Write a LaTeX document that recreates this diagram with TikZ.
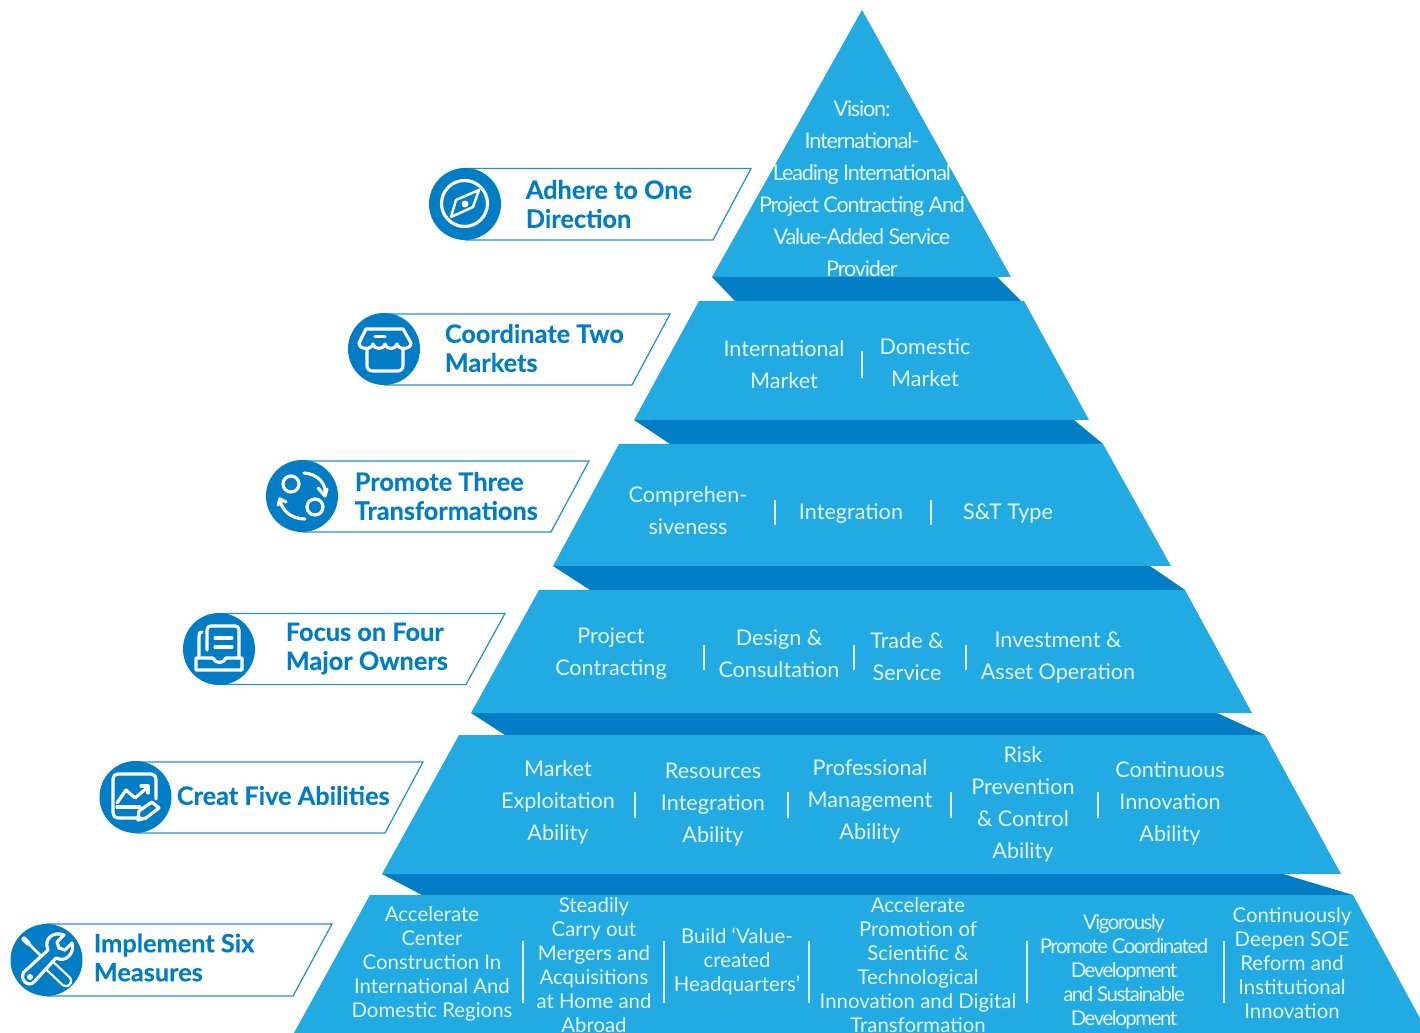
\documentclass[tikz,border=0pt]{standalone}
\usepackage{fontspec}
\setmainfont{Lato}
\usepackage{xcolor}
\usepackage{tikz}
\definecolor{tierblue}{HTML}{22ABE3}
\definecolor{shadeblue}{HTML}{007DC5}
\definecolor{pale}{HTML}{E4F5FC}
\begin{document}
\begin{tikzpicture}[x=0.02cm,y=-0.02cm]
	\tikzset{align=center,text=pale,inner sep=0pt}
	\tikzset{tier/.style = {fill=tierblue}}
	\tikzset{shade/.style = {fill=shadeblue}}
	\tikzset{upper/.style = {font=\fontsize{12.3}{18.2}\selectfont}}
	\tikzset{lower/.style = {font=\fontsize{11.6}{13.66}\selectfont}}
	\tikzset{tight/.style = {font=\fontsize{12.3}{18.2}\selectfont\addfontfeature{LetterSpace=-5.5}}}
	\tikzset{divider/.style = {draw=pale,line width=0.7pt}}
	\tikzset{banner/.style = {draw=shadeblue!85!white,line width=0.7pt}}
	\tikzset{badge/.style = {shape=circle,fill=shadeblue,minimum size=72*0.02cm}}
	\tikzset{heading/.style = {align=left,anchor=west,text=shadeblue,font=\fontsize{14.4}{16.5}\selectfont\bfseries\addfontfeature{FakeBold=0.3}}}
	\tikzset{icon/.style = {draw=white,line width=1.8pt,line cap=round,line join=round}}

	\useasboundingbox (0,0) rectangle (1420,1033);

	% tiers
	\fill[shade] (712,277) -- (997,277) -- (1021,301) -- (735,301) -- cycle;
	\fill[shade] (634,420) -- (1074,420) -- (1103,444) -- (670,444) -- cycle;
	\fill[shade] (553,566) -- (1150,566) -- (1185,590) -- (590,590) -- cycle;
	\fill[shade] (471,713) -- (1217,713) -- (1265,735) -- (505,735) -- cycle;
	\fill[shade] (382,874) -- (1283,874) -- (1353,895) -- (422,895) -- cycle;

	\fill[tier] (862,10) -- (1011,277) -- (712,277) -- cycle;
	\fill[tier] (699,301) -- (1024,301) -- (1089,420) -- (634,420) -- cycle;
	\fill[tier] (619,444) -- (1103,444) -- (1171,566) -- (553,566) -- cycle;
	\fill[tier] (539,590) -- (1185,590) -- (1252,713) -- (471,713) -- cycle;
	\fill[tier] (459,735) -- (1265,735) -- (1341,874) -- (382,874) -- cycle;
	\fill[tier] (370,895) -- (1353,895) -- (1428,1033) -- (294,1033) -- cycle;

	% tier texts
	\node[tight] (vision) at (862,189) {Vision:\\International-\\Leading International\\Project Contracting And\\Value-Added Service\\Provider};

	\node[upper] (intl) at (784,365) {International\\Market};
	\node[upper] (dom) at (925,363) {Domestic\\Market};

	\node[upper] (compre) at (688,510.5) {Comprehen-\\siveness};
	\node[upper] (integ) at (851,514) {Integration};
	\node[upper] (st) at (1008,514) {S\&T Type};

	\node[upper] (project) at (611,654) {Project\\Contracting};
	\node[upper] (design) at (779,654) {Design \&\\Consultation};
	\node[upper] (trade) at (907,657) {Trade \&\\Service};
	\node[upper] (invest) at (1058,658) {Investment \&\\Asset Operation};

	\node[upper] (market) at (558,802) {Market\\Exploitation\\Ability};
	\node[upper] (resource) at (713,805) {Resources\\Integration\\Ability};
	\node[upper] (profes) at (870,801) {Professional\\Management\\Ability};
	\node[upper] (risk) at (1023,804) {Risk\\Prevention\\\& Control\\Ability};
	\node[upper] (contin) at (1170,803) {Continuous\\Innovation\\Ability};

	\node[lower] (center) at (432,964) {Accelerate\\Center\\Construction In\\International And\\Domestic Regions};
	\node[lower] (merge) at (594,965) {Steadily\\Carry out\\Mergers and\\Acquisitions\\at Home and\\Abroad};
	\node[lower] (build) at (737,961) {Build ‘Value-\\created\\Headquarters’};
	\node[lower] (tech) at (918,965) {Accelerate\\Promotion of\\Scientific \&\\Technological\\Innovation and Digital\\Transformation};
	\node[lower,font=\fontsize{11.6}{13.66}\selectfont\addfontfeature{LetterSpace=-7}] (vigor) at (1124,971.5) {Vigorously\\Promote Coordinated\\Development\\and Sustainable\\Development};
	\node[lower] (deepen) at (1292,963) {Continuously\\Deepen SOE\\Reform and\\Institutional\\Innovation};

	% dividers
	\draw[divider] (862,351) -- (862,378);
	\foreach \x in {775,931} {\draw[divider] (\x,500) -- (\x,525);}
	\draw[divider] (704,645) -- (704,670);
	\draw[divider] (854,645) -- (854,670);
	\draw[divider] (966,645) -- (966,670);
	\foreach \x in {635,788,951,1098} {\draw[divider] (\x,792) -- (\x,818);}
	\foreach \x in {523,664,809,1027,1224} {\draw[divider] (\x,941) -- (\x,1003);}

	% banners
	\draw[banner] (465,168.5) -- (751,168.5) -- (713,240) -- (465,240);
	\draw[banner] (384,314) -- (670,314) -- (632,385) -- (384,385);
	\draw[banner] (302,461) -- (589,461) -- (551,532) -- (302,532);
	\draw[banner] (219,613.5) -- (505,613.5) -- (466,684.5) -- (219,684.5);
	\draw[banner] (135,762) -- (423,762) -- (385,833) -- (135,833);
	\draw[banner] (46,924) -- (332,924) -- (293,996) -- (46,996);

	\node[badge] (one) at (465,204) {};
	\node[badge] (two) at (384,349) {};
	\node[badge] (three) at (302,496) {};
	\node[badge] (four) at (219,649) {};
	\node[badge] (five) at (135.5,797) {};
	\node[badge] (six) at (46.5,960) {};

	\node[heading] (adhere) at (525.5,204) {Adhere to One\\Direction};
	\node[heading] (coord) at (444.5,348) {Coordinate Two\\Markets};
	\node[heading] (promote) at (354.5,496) {Promote Three\\Transformations};
	\node[heading] (focus) at (285.5,648.5) {Focus on Four\\Major Owners};
	\node[heading] (creat) at (176.5,795.5) {Creat Five Abilities};
	\node[heading] (implement) at (93.5,957.5) {Implement Six\\Measures};

	% icons
	\draw[icon] (464.5,203.5) circle (23);
	\draw[icon,line width=1.4pt] (479,190) -- (473,207) -- (451,217) -- (456,200) -- cycle;
	\fill[white] (465,204) circle (3.5);

	\draw[icon] (366,329) -- (403,329) -- (411,343) .. controls (411,350) and (398,350) .. (397,344) .. controls (396,350) and (386,350) .. (385,344) .. controls (384,350) and (374,350) .. (373,344) .. controls (372,350) and (359,350) .. (359,343) -- cycle;
	\draw[icon] (367,349) -- (367,365) .. controls (367,369) and (369,371) .. (373,371) -- (397,371) .. controls (401,371) and (403,369) .. (403,365) -- (403,349);
	\draw[icon] (375,336.5) -- (385,336.5);

	\draw[icon] (291,484) circle (8);
	\draw[icon] (315,507) circle (8);
	\draw[icon] (304,473) .. controls (318,474) and (327,484) .. (325,496);
	\draw[icon] (318,488) -- (325,496) -- (327,489);
	\draw[icon] (305,519) .. controls (291,519) and (281,510) .. (280,499);
	\draw[icon] (286,502) -- (280,499) -- (278,505);

	\draw[icon] (207,650) -- (207,630) .. controls (207,627) and (209,626) .. (211,626) -- (235,626) .. controls (237,626) and (239,627) .. (239,630) -- (239,658);
	\draw[icon] (215,638) -- (232,638);
	\draw[icon] (215,647) -- (232,647);
	\draw[icon] (199,656) -- (199,636) .. controls (199,633) and (200,632) .. (202,632);
	\draw[icon] (196,658) -- (213,658) .. controls (215,664) and (224,664) .. (226,658) -- (242,658) -- (242,670) -- (196,670) -- cycle;

	\draw[icon] (141,818) -- (118,818) .. controls (115,818) and (113,816) .. (113,813) -- (113,779) .. controls (113,776) and (115,774) .. (118,774) -- (151,774) .. controls (154,774) and (156,776) .. (156,779) -- (156,799);
	\draw[icon] (117,803) -- (126,790) -- (135,798) -- (148,787);
	\draw[icon] (141,786) -- (148,786) -- (148,793);
	\draw[icon] (117,807) -- (140,807);
	\draw[icon] (138,820) -- (139,811) -- (152,802) -- (159,808) -- (146,818) -- cycle;

	\draw[icon,line width=3pt] (24,939) -- (28,943);
	\draw[icon,line width=1.5pt] (28,943) -- (42,957);
	\draw[icon,double=shadeblue,double distance=4.5pt,line width=1.3pt] (50,966) -- (66,981);
	\draw[icon,fill=shadeblue] (24,972) -- (48,950) .. controls (43,938) and (54,931) .. (64,935) -- (57,942) -- (59,948) -- (65,950) -- (72,943) .. controls (75,953) and (66,963) .. (56,958) -- (34,982) .. controls (28,988) and (19,979) .. (24,972) -- cycle;
	\fill[white] (30,977) circle (3);
\end{tikzpicture}
\end{document}
